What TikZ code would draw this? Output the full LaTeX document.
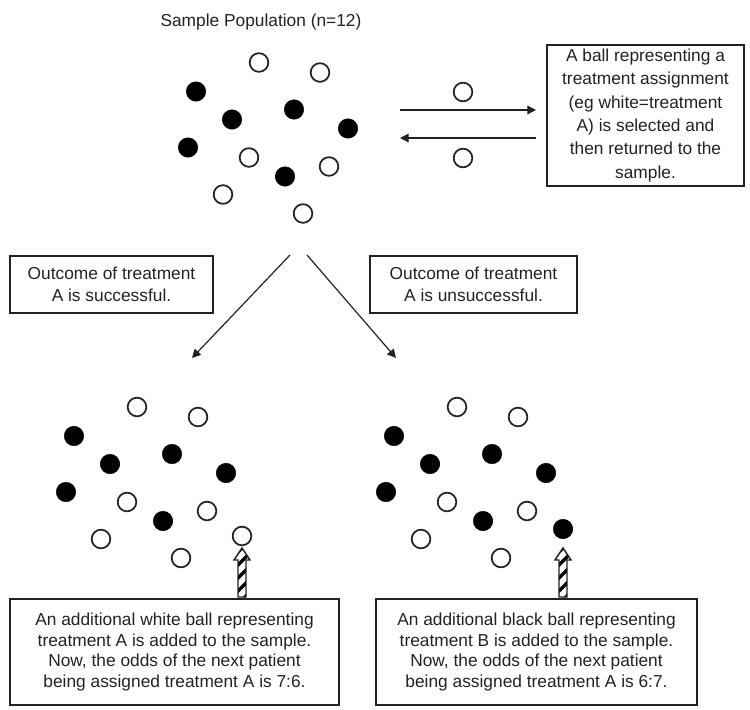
\documentclass[tikz,border=0pt]{standalone}
\usepackage{fontspec}
\setmainfont{Liberation Sans}
\usetikzlibrary{arrows.meta}
\definecolor{ink}{HTML}{222222}
\newcommand\hatcharrow[2]{%
  \begin{scope}
    \clip (#1-4,597) -- (#1-4,560) -- (#1-8,560) -- (#1,#2) -- (#1+8,560) -- (#1+4,560) -- (#1+4,597) -- cycle;
    \foreach \k in {0,...,5} {\draw[line width=2.6pt] (#1-12,612-\k*13) -- (#1+12,588-\k*13);}
  \end{scope}
  \draw[draw=ink,line width=1.1pt,line join=miter] (#1-4,597) -- (#1-4,560) -- (#1-8,560) -- (#1,#2) -- (#1+8,560) -- (#1+4,560) -- (#1+4,597) -- cycle;
}
\begin{document}
\begin{tikzpicture}[x=0.75pt,y=-0.75pt,
  wball/.style={circle,draw=ink,line width=1.3pt,fill=white,minimum size=14pt,inner sep=0pt},
  bball/.style={circle,fill=black,draw=black,line width=0.4pt,minimum size=14.6pt,inner sep=0pt},
  textbox/.style={draw=ink,line width=1.3pt,align=center,text=ink,inner sep=0pt},
  arr/.style={draw=ink,line width=0.9pt,-{Triangle[length=6.5pt,width=6.5pt]}}]
\useasboundingbox (0,0) rectangle (750,710);

% title
\node[text=ink,font=\fontsize{13}{15}\selectfont] (title) at (261,22) {Sample Population (n=12)};

% ball clusters: top (shift 122,-344.5), bottom left (0,0), bottom right (320,0)
\foreach \dx/\dy/\pre in {122/-344.5/t, 0/0/a, 320/0/b} {
  \begin{scope}[shift={(\dx,\dy)}]
    \node[wball] (\pre1) at (137,407) {};
    \node[wball] (\pre2) at (198,417) {};
    \node[bball] (\pre3) at (74,436) {};
    \node[bball] (\pre4) at (110,464) {};
    \node[bball] (\pre5) at (172,454) {};
    \node[bball] (\pre6) at (226,473) {};
    \node[bball] (\pre7) at (66,492) {};
    \node[wball] (\pre8) at (127,502) {};
    \node[bball] (\pre9) at (163,521) {};
    \node[wball] (\pre10) at (207,511) {};
    \node[wball] (\pre11) at (101,539) {};
    \node[wball] (\pre12) at (181,558) {};
  \end{scope}
}
\node[wball] (aextra) at (242,536) {};
\node[bball] (bextra) at (563,529) {};

% selection arrows
\coordinate (sa1) at (400,110);
\coordinate (sa2) at (536,110);
\coordinate (ra1) at (536,138);
\coordinate (ra2) at (400,138);
\draw[arr] (sa1) -- (sa2);
\draw[arr] (ra1) -- (ra2);
\node[wball] (sel) at (463,92) {};
\node[wball] (ret) at (463,158) {};

% right box
\node[textbox,minimum width=147.75pt,minimum height=105.75pt,font=\fontsize{13}{17.5}\selectfont] (selbox) at (645.5,115.5)
  {A ball representing a\\treatment assignment\\(eg white=treatment\\A) is selected and\\then returned to the\\sample.};

% outcome arrows
\coordinate (o1) at (290,255);
\coordinate (o2) at (192,358);
\coordinate (o3) at (307,255);
\coordinate (o4) at (396,358);
\draw[arr] (o1) -- (o2);
\draw[arr] (o3) -- (o4);

% outcome boxes
\node[textbox,minimum width=152.25pt,minimum height=42.75pt,font=\fontsize{13}{16.5}\selectfont] (succ) at (111.5,284.5)
  {Outcome of treatment\\A is successful.};
\node[textbox,minimum width=155.25pt,minimum height=42.75pt,font=\fontsize{13}{16.5}\selectfont] (unsucc) at (473.5,284.5)
  {Outcome of treatment\\A is unsuccessful.};

% hatched arrows
\hatcharrow{242}{548}
\hatcharrow{563}{548}

% bottom boxes
\node[textbox,minimum width=246.75pt,minimum height=79.5pt,font=\fontsize{13}{15.4}\selectfont] (addw) at (174.5,652)
  {An additional white ball representing\\treatment A is added to the sample.\\Now, the odds of the next patient\\being assigned treatment A is 7:6.};
\node[textbox,minimum width=240.75pt,minimum height=79.5pt,font=\fontsize{13}{15.4}\selectfont] (addb) at (536.5,652)
  {An additional black ball representing\\treatment B is added to the sample.\\Now, the odds of the next patient\\being assigned treatment A is 6:7.};
\end{tikzpicture}
\end{document}
